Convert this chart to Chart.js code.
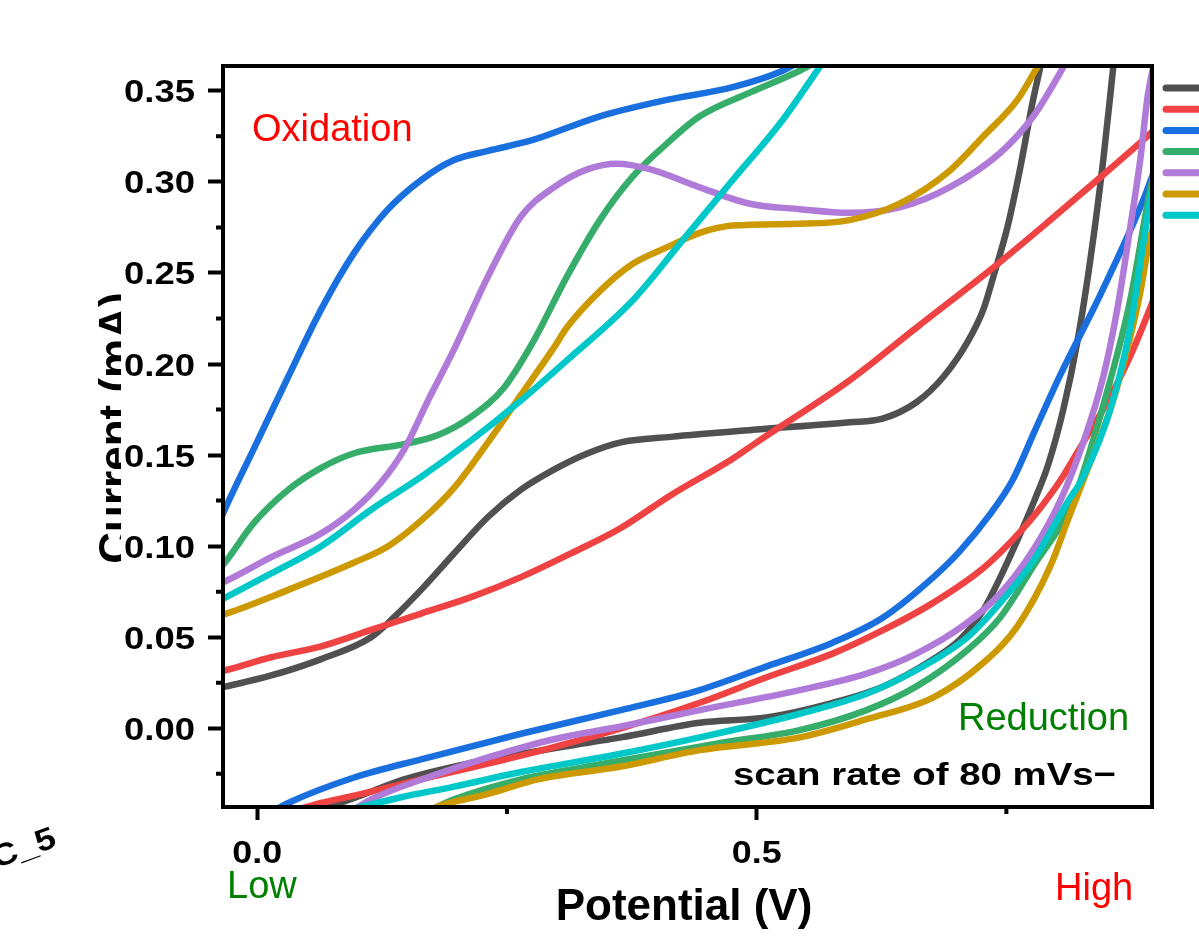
<!DOCTYPE html>
<html>
<head>
<meta charset="utf-8">
<script src="https://cdn.jsdelivr.net/npm/chart.js@4.4.1/dist/chart.umd.min.js"></script>
<style>
  html, body { margin: 0; padding: 0; background: #fff; overflow: hidden; }
  #wrap { width: 1199px; height: 941px; }
</style>
</head>
<body>
<div id="wrap"><canvas id="myChart" width="1199" height="941"></canvas></div>
<script>
// cyclic voltammograms, potential (V) vs current (mA)
// each curve = oxidation branch (left -> right) + reduction branch (right -> left)
const seriesNames = ['S1', 'S2', 'S3', 'S4', 'S5', 'S6', 'S7'];
const seriesColors = ['#505050', '#ef4242', '#1a6fdf', '#37ad6b', '#b07ad9', '#cc9900', '#00c8c8'];

const grayOx = [[-0.047,0.021],[-0.031,0.023],[0.014,0.029],[0.064,0.038],[0.114,0.050],[0.137,0.061],[0.164,0.076],[0.197,0.096],[0.231,0.116],[0.264,0.131],[0.297,0.142],[0.331,0.151],[0.364,0.157],[0.414,0.160],[0.500,0.164],[0.593,0.168],[0.626,0.170],[0.660,0.179],[0.687,0.193],[0.711,0.212],[0.727,0.230],[0.737,0.248],[0.751,0.275],[0.764,0.308],[0.776,0.343],[0.784,0.363],[0.790,0.378]];
const grayRed = [[0.860,0.378],[0.857,0.363],[0.847,0.312],[0.834,0.257],[0.821,0.212],[0.807,0.175],[0.792,0.145],[0.778,0.125],[0.764,0.107],[0.744,0.083],[0.727,0.065],[0.704,0.049],[0.677,0.038],[0.627,0.023],[0.576,0.014],[0.510,0.006],[0.443,0.003],[0.364,-0.005],[0.264,-0.014],[0.197,-0.021],[0.147,-0.028],[0.103,-0.037],[0.063,-0.045]];

const redOx = [[-0.047,0.030],[-0.031,0.032],[0.014,0.039],[0.064,0.045],[0.114,0.054],[0.164,0.063],[0.214,0.072],[0.264,0.083],[0.314,0.096],[0.364,0.110],[0.414,0.128],[0.476,0.148],[0.500,0.157],[0.593,0.191],[0.660,0.220],[0.737,0.253],[0.794,0.279],[0.841,0.301],[0.887,0.323],[0.914,0.337]];
const redRed = [[0.914,0.259],[0.892,0.228],[0.877,0.208],[0.854,0.182],[0.827,0.157],[0.804,0.136],[0.784,0.121],[0.764,0.108],[0.727,0.088],[0.677,0.069],[0.627,0.054],[0.576,0.041],[0.510,0.028],[0.443,0.014],[0.364,0.000],[0.264,-0.015],[0.164,-0.028],[0.097,-0.037],[0.064,-0.041],[0.033,-0.046]];

const blueOx = [[-0.042,0.108],[-0.031,0.122],[-0.003,0.154],[0.031,0.193],[0.064,0.230],[0.097,0.261],[0.131,0.285],[0.164,0.301],[0.197,0.312],[0.231,0.317],[0.276,0.323],[0.343,0.336],[0.410,0.345],[0.476,0.352],[0.526,0.361],[0.558,0.371]];
const blueRed = [[0.909,0.323],[0.887,0.290],[0.844,0.238],[0.804,0.194],[0.779,0.164],[0.756,0.136],[0.733,0.117],[0.703,0.097],[0.677,0.083],[0.627,0.061],[0.576,0.047],[0.510,0.034],[0.443,0.021],[0.364,0.010],[0.264,-0.003],[0.164,-0.017],[0.097,-0.027],[0.031,-0.041],[0.008,-0.048]];

const greenOx = [[-0.045,0.083],[-0.031,0.092],[-0.003,0.113],[0.031,0.131],[0.064,0.143],[0.097,0.151],[0.147,0.156],[0.181,0.161],[0.214,0.171],[0.247,0.187],[0.276,0.212],[0.310,0.248],[0.343,0.279],[0.376,0.303],[0.410,0.321],[0.443,0.336],[0.493,0.349],[0.543,0.361],[0.573,0.370]];
const greenRed = [[0.909,0.334],[0.892,0.290],[0.874,0.235],[0.854,0.191],[0.834,0.153],[0.817,0.125],[0.777,0.089],[0.744,0.061],[0.711,0.043],[0.660,0.023],[0.610,0.010],[0.543,-0.001],[0.464,-0.008],[0.331,-0.021],[0.264,-0.028],[0.197,-0.039],[0.173,-0.045]];

const purpleOx = [[-0.045,0.078],[-0.031,0.081],[0.014,0.094],[0.064,0.107],[0.097,0.120],[0.124,0.135],[0.147,0.153],[0.171,0.180],[0.197,0.208],[0.231,0.248],[0.264,0.281],[0.297,0.297],[0.331,0.307],[0.360,0.310],[0.393,0.307],[0.443,0.297],[0.493,0.288],[0.543,0.285],[0.593,0.283],[0.643,0.286],[0.693,0.297],[0.744,0.316],[0.777,0.336],[0.807,0.363],[0.822,0.378]];
const purpleRed = [[0.904,0.378],[0.892,0.349],[0.884,0.312],[0.874,0.275],[0.861,0.230],[0.847,0.193],[0.827,0.157],[0.804,0.125],[0.777,0.098],[0.744,0.074],[0.711,0.058],[0.660,0.041],[0.610,0.030],[0.543,0.021],[0.443,0.010],[0.364,0.001],[0.297,-0.006],[0.231,-0.016],[0.181,-0.025],[0.114,-0.039],[0.093,-0.046]];

const goldOx = [[-0.045,0.061],[-0.031,0.063],[0.031,0.076],[0.097,0.091],[0.131,0.100],[0.164,0.114],[0.197,0.132],[0.231,0.157],[0.264,0.183],[0.297,0.209],[0.310,0.220],[0.343,0.240],[0.376,0.255],[0.410,0.264],[0.443,0.272],[0.476,0.276],[0.543,0.277],[0.593,0.279],[0.643,0.288],[0.693,0.306],[0.727,0.325],[0.761,0.345],[0.781,0.363],[0.794,0.375]];
const goldRed = [[0.904,0.290],[0.892,0.264],[0.884,0.239],[0.871,0.208],[0.854,0.175],[0.834,0.146],[0.812,0.115],[0.794,0.089],[0.761,0.056],[0.727,0.036],[0.677,0.017],[0.610,0.005],[0.543,-0.005],[0.443,-0.012],[0.364,-0.021],[0.281,-0.028],[0.231,-0.036],[0.181,-0.043],[0.163,-0.048]];

const cyanOx = [[-0.045,0.068],[-0.031,0.072],[0.014,0.085],[0.064,0.100],[0.114,0.120],[0.164,0.138],[0.214,0.158],[0.264,0.180],[0.310,0.202],[0.376,0.235],[0.426,0.268],[0.476,0.301],[0.526,0.334],[0.563,0.363],[0.578,0.375]];
const cyanRed = [[0.902,0.317],[0.887,0.266],[0.874,0.220],[0.854,0.175],[0.827,0.138],[0.811,0.124],[0.777,0.092],[0.744,0.069],[0.711,0.050],[0.660,0.032],[0.610,0.019],[0.543,0.008],[0.443,-0.005],[0.364,-0.014],[0.264,-0.024],[0.197,-0.032],[0.143,-0.038],[0.083,-0.046]];

const xTicks = [0.0, 0.5];
const xMinorTicks = [0.25, 0.75];
const yTicks = [0.00, 0.05, 0.10, 0.15, 0.20, 0.25, 0.30, 0.35];
const yMinorTicks = [-0.025, 0.025, 0.075, 0.125, 0.175, 0.225, 0.275, 0.325];

const branches = [
    [grayOx, grayRed], [redOx, redRed], [blueOx, blueRed], [greenOx, greenRed],
    [purpleOx, purpleRed], [goldOx, goldRed], [cyanOx, cyanRed]
];

const datasets = [];
branches.forEach((pair, i) => {
    pair.forEach(pts => {
        datasets.push({
            label: seriesNames[i],
            data: pts.map(p => ({ x: p[0], y: p[1] })),
            borderColor: seriesColors[i],
            backgroundColor: seriesColors[i],
            borderWidth: 6.5,
            showLine: true,
            pointRadius: 0,
            cubicInterpolationMode: 'monotone',
            fill: false,
            clip: 0,
            order: 7 - i
        });
    });
});

// the bold labels of the original are wide, so they are drawn stretched
function wideText(ctx, text, x, y, sx, align) {
    ctx.save();
    ctx.translate(x, y);
    ctx.scale(sx, 1);
    ctx.textAlign = align;
    ctx.fillText(text, 0, 0);
    ctx.restore();
}

const decor = {
    id: 'decor',
    beforeDraw(chart) {
        const ctx = chart.ctx;
        ctx.save();
        ctx.fillStyle = '#fff';
        ctx.fillRect(0, 0, chart.width, chart.height);
        // y title, partly hidden behind the tick labels
        ctx.beginPath();
        ctx.rect(0, 0, 121, chart.height);
        ctx.clip();
        ctx.translate(130, 428);
        ctx.rotate(-Math.PI / 2);
        ctx.font = 'bold 44px "Liberation Sans"';
        ctx.fillStyle = '#000';
        ctx.textAlign = 'center';
        ctx.textBaseline = 'alphabetic';
        ctx.fillText('Current (mA)', 0, 0);
        ctx.restore();
    },
    afterDraw(chart) {
        const ctx = chart.ctx;
        const a = chart.chartArea;
        const xs = chart.scales.x, ys = chart.scales.y;
        ctx.save();
        // frame
        ctx.strokeStyle = '#000';
        ctx.lineWidth = 4;
        ctx.strokeRect(a.left, a.top, a.right - a.left, a.bottom - a.top);
        // minor ticks
        ctx.beginPath();
        yMinorTicks.forEach(v => {
            const py = ys.getPixelForValue(v);
            ctx.moveTo(a.left - 7, py);
            ctx.lineTo(a.left, py);
        });
        xMinorTicks.forEach(v => {
            const px = xs.getPixelForValue(v);
            ctx.moveTo(px, a.bottom);
            ctx.lineTo(px, a.bottom + 7);
        });
        ctx.stroke();
        // tick labels at the scale positions
        ctx.fillStyle = '#000';
        ctx.textBaseline = 'alphabetic';
        ctx.font = 'bold 32px "Liberation Sans"';
        ys.ticks.forEach(t => {
            wideText(ctx, t.value.toFixed(2), a.left - 28, ys.getPixelForValue(t.value) + 11.5, 1.14, 'right');
        });
        xs.ticks.forEach(t => {
            wideText(ctx, t.value.toFixed(1), xs.getPixelForValue(t.value), a.bottom + 55.5, 1.12, 'center');
        });
        // x title
        ctx.font = 'bold 44px "Liberation Sans"';
        ctx.textAlign = 'center';
        ctx.fillText('Potential (V)', 684, 920);
        // labels in the plot
        ctx.textAlign = 'left';
        ctx.font = '38px "Liberation Sans"';
        ctx.fillStyle = '#ff0000';
        ctx.fillText('Oxidation', 252, 141);
        ctx.fillText('High', 1055, 900);
        ctx.fillStyle = '#008000';
        ctx.fillText('Reduction', 958, 730);
        ctx.fillText('Low', 227, 898);
        ctx.fillStyle = '#000';
        ctx.font = 'bold 32px "Liberation Sans"';
        wideText(ctx, 'scan rate of 80 mVs\u2212', 733, 785, 1.2, 'left');
        // stray label at bottom left
        ctx.save();
        ctx.translate(58, 846);
        ctx.rotate(-0.35);
        ctx.font = 'bold 31px "Liberation Sans"';
        wideText(ctx, 'C_5', 0, 0, 1.16, 'right');
        ctx.restore();
        // legend samples (text is outside the picture)
        ctx.lineCap = 'round';
        ctx.lineWidth = 7;
        seriesColors.forEach((c, i) => {
            const y = 88 + i * 21.2;
            ctx.strokeStyle = c;
            ctx.beginPath();
            ctx.moveTo(1166, y);
            ctx.lineTo(1230, y);
            ctx.stroke();
        });
        ctx.restore();
    }
};

const config = {
    type: 'scatter',
    data: { datasets: datasets },
    options: {
        responsive: false,
        animation: false,
        devicePixelRatio: 1,
        layout: { padding: { left: 0, top: 66, right: 47, bottom: 0 } },
        plugins: { legend: { display: false }, tooltip: { enabled: false } },
        scales: {
            x: {
                type: 'linear',
                min: -0.0343,
                max: 0.8958,
                afterBuildTicks: s => { s.ticks = xTicks.map(v => ({ value: v })); },
                afterFit: s => { s.height = 134; },
                ticks: { display: false },
                grid: { drawOnChartArea: false, drawTicks: true, tickLength: 13, tickWidth: 4, tickColor: '#000' },
                border: { display: false }
            },
            y: {
                type: 'linear',
                min: -0.0432,
                max: 0.3636,
                afterBuildTicks: s => { s.ticks = yTicks.map(v => ({ value: v })); },
                afterFit: s => { s.width = 223; },
                ticks: { display: false },
                grid: { drawOnChartArea: false, drawTicks: true, tickLength: 15, tickWidth: 4, tickColor: '#000' },
                border: { display: false }
            }
        }
    },
    plugins: [decor]
};

const myChart = new Chart(document.getElementById('myChart'), config);
</script>
</body>
</html>
